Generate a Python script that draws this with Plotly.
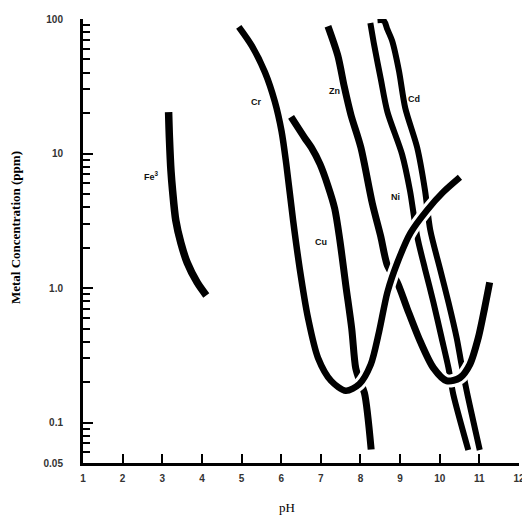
import plotly.graph_objects as go
import math

# ---- data ----
fe_ph = [3.16, 3.18, 3.22, 3.26, 3.34, 3.47, 3.63, 3.88, 4.11]
fe_c = [20.3, 13.1, 7.4, 5.3, 3.2, 2.16, 1.54, 1.10, 0.88]

cr_ph = [4.93, 5.26, 5.59, 5.84, 6.01, 6.13, 6.30, 6.47, 6.68, 6.93, 7.26, 7.63,
         7.97, 8.26, 8.47, 8.68, 8.93, 9.26, 9.68, 10.09, 10.51]
cr_c = [87.4, 63.1, 40.2, 24.3, 14.6, 8.3, 3.2, 1.38, 0.593, 0.302, 0.204, 0.172,
        0.193, 0.270, 0.473, 0.93, 1.54, 2.56, 3.79, 5.17, 6.66]

cu_ph = [6.25, 6.59, 6.76, 6.98, 7.18, 7.35, 7.48, 7.63, 7.78, 7.88, 7.98, 8.10, 8.27]
cu_c = [18.7, 13.1, 11.1, 8.33, 5.75, 3.90, 2.27, 1.05, 0.498, 0.254, 0.204, 0.166, 0.063]

zn_ph = [7.18, 7.43, 7.59, 7.76, 8.01, 8.30, 8.51, 8.68, 8.93, 9.18, 9.51, 9.84,
         10.18, 10.51, 10.76, 10.97, 11.13, 11.26]
zn_c = [88.4, 53.3, 31.6, 19.4, 11.1, 4.25, 2.43, 1.47, 1.10, 0.702, 0.400, 0.255,
        0.204, 0.215, 0.270, 0.423, 0.702, 1.10]

ni_ph = [8.25, 8.35, 8.51, 8.68, 9.05, 9.25, 9.43, 9.63, 9.84, 10.05, 10.22, 10.34, 10.72]
ni_c = [93.5, 63.1, 36.2, 20.4, 9.86, 5.29, 2.43, 1.38, 0.785, 0.423, 0.255, 0.163, 0.0625]

cd_ph = [8.43, 8.59, 8.68, 8.80, 8.97, 9.13, 9.43, 9.63, 9.76, 10.01, 10.22, 10.43,
         10.55, 10.68, 11.01]
cd_c = [98.0, 97.0, 83.6, 68.7, 41.4, 21.8, 11.1, 5.29, 2.71, 1.38, 0.785, 0.423,
        0.270, 0.172, 0.0625]

label_text = ["Fe<sup>3</sup>", "Cr", "Zn", "Cd", "Ni", "Cu"]
label_ph = [2.72, 5.38, 7.34, 9.34, 8.88, 7.01]
label_c = [6.84, 24.0, 29.0, 25.4, 4.75, 2.20]

x_ticks = list(range(1, 13))
y_ticks = [0.05, 0.1, 1, 10, 100]
y_ticktext = ["0.05", "0.1", "1.0", "10", "100"]
y_minor = [0.06, 0.07, 0.08, 0.09] + \
    [d * m for d in (0.1, 1, 10) for m in range(2, 10)]

fig = go.Figure()


def add_curve(xs, ys, w, under=True):
    if under:
        fig.add_trace(go.Scatter(x=xs, y=ys, mode="lines",
                                 line=dict(color="white", width=w + 6, shape="spline", smoothing=0.8),
                                 hoverinfo="skip", showlegend=False))
    fig.add_trace(go.Scatter(x=xs, y=ys, mode="lines",
                             line=dict(color="black", width=w, shape="spline", smoothing=0.8),
                             showlegend=False))


add_curve(fe_ph, fe_c, 7.5)
# Ni and Cd: white halos first, then black lines (they don't cut each other)
for xs, ys in ((ni_ph, ni_c), (cd_ph, cd_c)):
    fig.add_trace(go.Scatter(x=xs, y=ys, mode="lines",
                             line=dict(color="white", width=11, shape="spline", smoothing=0.8),
                             hoverinfo="skip", showlegend=False))
add_curve(ni_ph, ni_c, 6, under=False)
add_curve(cd_ph, cd_c, 6, under=False)
add_curve(cu_ph, cu_c, 7)
add_curve(zn_ph, zn_c, 7)
add_curve(cr_ph, cr_c, 6.5)

for t, xv, yv in zip(label_text, label_ph, label_c):
    fig.add_annotation(x=xv, y=math.log10(yv), text="<b>" + t + "</b>", showarrow=False,
                       font=dict(family="Liberation Sans", size=9, color="#111"))

fig.add_annotation(xref="paper", yref="paper", x=-0.155, y=0.53, xanchor="center", yanchor="middle",
                   text="<b>Metal Concentration (ppm)</b>", textangle=-90, showarrow=False,
                   font=dict(family="Liberation Serif", size=13, color="black"))
fig.add_annotation(xref="paper", yref="paper", x=0.468, y=-0.10, xanchor="center", yanchor="middle",
                   text="pH", showarrow=False,
                   font=dict(family="Liberation Serif", size=13, color="black"))

fig.update_xaxes(range=[1, 12], tickmode="array", tickvals=x_ticks,
                 ticks="inside", ticklen=9, tickwidth=2, tickcolor="black",
                 showline=True, linewidth=3, linecolor="black",
                 showgrid=False, zeroline=False, ticklabelstandoff=4,
                 ticklabeloverflow="allow",
                 tickfont=dict(family="Liberation Sans", size=10, color="#333", weight="bold"))
fig.update_yaxes(type="log", range=[math.log10(0.05), 2], tickmode="array",
                 tickvals=y_ticks, ticktext=y_ticktext,
                 ticks="inside", ticklen=10, tickwidth=2, tickcolor="black",
                 minor=dict(tickmode="array", tickvals=y_minor, ticks="inside",
                            ticklen=7, tickwidth=2, tickcolor="black"),
                 showline=True, linewidth=3, linecolor="black",
                 showgrid=False, zeroline=False, ticklabelstandoff=15,
                 ticklabeloverflow="allow",
                 tickfont=dict(family="Liberation Sans", size=10, color="#333", weight="bold"))

# the page body adds an 8px offset, so the figure is shifted up/left by that much
fig.update_layout(width=522, height=509, margin=dict(l=75, r=7, t=5, b=54),
                  plot_bgcolor="white", paper_bgcolor="white", showlegend=False)

fig.write_html("out.html")
